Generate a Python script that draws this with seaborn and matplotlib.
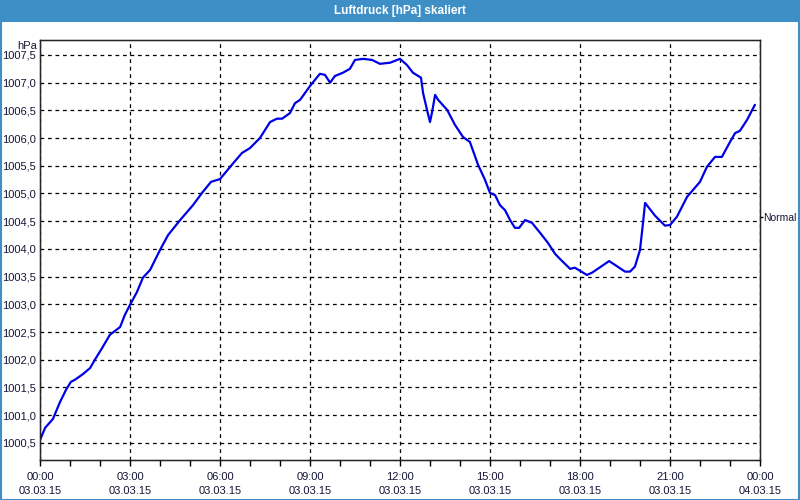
import numpy as np
import pandas as pd
import matplotlib
matplotlib.use('Agg')
import matplotlib.pyplot as plt
import seaborn as sns
from matplotlib.ticker import FuncFormatter, MultipleLocator

# Messwerte Luftdruck (Stunden seit 03.03.15 00:00)
hours = [0.0, 0.17, 0.43, 0.67, 0.87, 1.03, 1.17, 1.43, 1.67, 1.83, 2.07, 2.33, 2.67, 2.83,
         3.0, 3.23, 3.43, 3.67, 4.0, 4.27, 4.67, 5.1, 5.4, 5.7, 6.0, 6.4, 6.73, 7.0, 7.33,
         7.67, 7.9, 8.07, 8.33, 8.5, 8.67, 9.0, 9.33, 9.5, 9.67, 9.83, 10.1, 10.33, 10.5,
         10.77, 11.07, 11.33, 11.67, 12.0, 12.23, 12.43, 12.7, 12.77, 12.9, 13.0, 13.07,
         13.17, 13.27, 13.57, 13.83, 14.1, 14.33, 14.6, 14.83, 15.0, 15.17, 15.33, 15.5,
         15.67, 15.83, 15.97, 16.17, 16.4, 16.67, 16.93, 17.17, 17.33, 17.67, 17.83, 18.23,
         18.4, 18.97, 19.17, 19.5, 19.67, 19.83, 20.0, 20.1, 20.17, 20.27, 20.5, 20.83,
         21.0, 21.23, 21.57, 22.0, 22.23, 22.5, 22.73, 23.0, 23.17, 23.33, 23.57, 23.83]
pressure = [1000.55, 1000.77, 1000.93, 1001.24, 1001.46, 1001.60, 1001.64, 1001.74, 1001.85,
            1002.00, 1002.21, 1002.45, 1002.59, 1002.81, 1002.99, 1003.22, 1003.48, 1003.62,
            1003.98, 1004.25, 1004.52, 1004.79, 1005.01, 1005.21, 1005.26, 1005.52, 1005.73,
            1005.82, 1006.00, 1006.29, 1006.35, 1006.35, 1006.45, 1006.63, 1006.69, 1006.94,
            1007.16, 1007.14, 1007.00, 1007.12, 1007.18, 1007.25, 1007.41, 1007.43, 1007.41,
            1007.34, 1007.36, 1007.43, 1007.32, 1007.18, 1007.09, 1006.81, 1006.51, 1006.29,
            1006.47, 1006.78, 1006.69, 1006.51, 1006.24, 1006.02, 1005.93, 1005.52, 1005.25,
            1005.01, 1004.97, 1004.79, 1004.70, 1004.52, 1004.38, 1004.38, 1004.52, 1004.47,
            1004.29, 1004.11, 1003.91, 1003.82, 1003.64, 1003.66, 1003.53, 1003.57, 1003.78,
            1003.71, 1003.59, 1003.59, 1003.68, 1003.98, 1004.47, 1004.83, 1004.76, 1004.60,
            1004.42, 1004.43, 1004.58, 1004.94, 1005.21, 1005.48, 1005.66, 1005.66, 1005.93,
            1006.09, 1006.13, 1006.33, 1006.60]

tick_hours = [0, 3, 6, 9, 12, 15, 18, 21, 24]
tick_labels = ['00:00\n03.03.15', '03:00\n03.03.15', '06:00\n03.03.15', '09:00\n03.03.15',
               '12:00\n03.03.15', '15:00\n03.03.15', '18:00\n03.03.15', '21:00\n03.03.15',
               '00:00\n04.03.15']
normal_value = 1004.58

df = pd.DataFrame({'Stunde': hours, 'Luftdruck': pressure})

sns.set_style('white')
plt.rcParams['font.family'] = ['Liberation Sans', 'DejaVu Sans']
text_color = '#151535'

fig = plt.figure(figsize=(8, 5), dpi=100)
fig.patch.set_facecolor('white')

# Titelleiste
bar = fig.add_axes([0, 0.956, 1, 0.044])
bar.set_facecolor('#3d8fc6')
bar.set_xticks([])
bar.set_yticks([])
for s in bar.spines.values():
    s.set_visible(False)
bar.text(0.5, 0.5, 'Luftdruck [hPa] skaliert', color='white', fontsize=8.5,
         fontweight='bold', ha='center', va='center', transform=bar.transAxes)

# blauer Fensterrahmen
fig.add_artist(plt.Rectangle((0.0008, 0.001), 0.998, 0.96, transform=fig.transFigure,
                             fill=False, edgecolor='#3d8fc6', linewidth=1.5, zorder=0))

ax = fig.add_axes([0.05, 0.08, 0.90, 0.84])
sns.lineplot(data=df, x='Stunde', y='Luftdruck', ax=ax, color='#0000e6', linewidth=1.6)

ax.set_xlim(0, 24)
ax.set_ylim(1000.19, 1007.77)
ax.set_xticks(tick_hours)
ax.set_xticklabels(tick_labels, linespacing=1.5)
ax.xaxis.set_minor_locator(MultipleLocator(1))
ax.yaxis.set_major_locator(MultipleLocator(0.5))
ax.yaxis.set_major_formatter(FuncFormatter(lambda v, p: f'{v:.1f}'.replace('.', ',')))
ax.set_xlabel('')
ax.set_ylabel('')

ax.grid(True, color='black', linestyle=(0, (3, 3)), linewidth=0.9)
ax.tick_params(axis='x', which='major', direction='out', length=4, width=1, color='black',
               pad=5, labelsize=8, labelcolor=text_color, bottom=True)
ax.tick_params(axis='x', which='minor', direction='out', length=4, width=1, color='black',
               bottom=True)
ax.tick_params(axis='y', length=0, pad=3, labelsize=8, labelcolor=text_color)
for s in ax.spines.values():
    s.set_visible(True)
    s.set_color('black')
    s.set_linewidth(1)

ax.text(-0.004, 0.998, 'hPa', transform=ax.transAxes, ha='right', va='top',
        fontsize=8, color=text_color)

# Normalwert rechts
ax2 = ax.twinx()
ax2.set_ylim(ax.get_ylim())
ax2.set_yticks([normal_value])
ax2.set_yticklabels(['Normal'])
ax2.tick_params(axis='y', direction='out', length=2, width=1, color='black', pad=0.5,
                labelsize=7.5, labelcolor=text_color)
ax2.grid(False)

fig.savefig('out.png', dpi=100, facecolor=fig.get_facecolor())
